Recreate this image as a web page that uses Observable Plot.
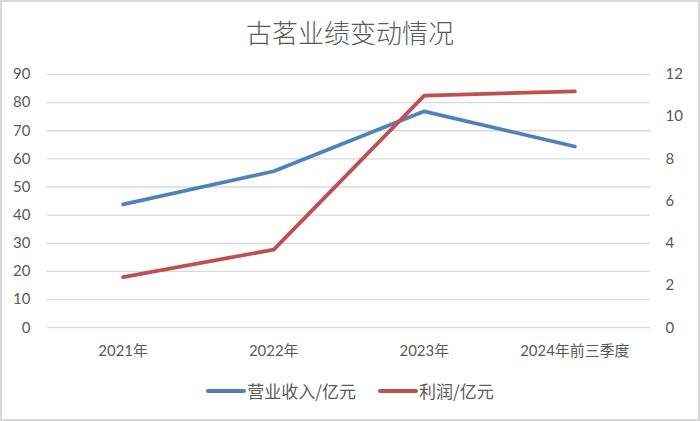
<!DOCTYPE html>
<html>
<head>
<meta charset="utf-8">
<script src="https://cdn.jsdelivr.net/npm/d3@7"></script>
<script src="https://cdn.jsdelivr.net/npm/@observablehq/plot@0.6"></script>
<style>
  html, body { margin: 0; padding: 0; background: #fff; }
  #wrap { position: relative; width: 700px; height: 421px; box-sizing: border-box; border: 2px solid #d9d9d9; background: #fff; overflow: hidden; }
  #title { position: absolute; left: 0; top: 13px; width: 696px; text-align: center; font-family: "Noto Sans CJK SC", sans-serif; font-weight: 300; font-size: 26px; color: #595959; line-height: 34px; }
  #chart { position: absolute; left: -2px; top: 58px; }
  #legend { position: absolute; left: -2px; top: 376px; width: 700px; display: flex; justify-content: center; align-items: center; font-family: "Noto Sans CJK SC", sans-serif; font-size: 17px; color: #595959; }
  .item { display: flex; align-items: center; }
  .swatch { width: 40px; height: 4px; border-radius: 2px; margin-right: 1px; }
</style>
</head>
<body>
<div id="wrap">
  <div id="title">古茗业绩变动情况</div>
  <div id="chart"></div>
  <div id="legend"></div>
</div>
<script>
const categories = ["2021年", "2022年", "2023年", "2024年前三季度"];
const revenue = [43.8, 55.6, 76.9, 64.4];   // 营业收入/亿元 (left axis)
const profit = [2.4, 3.7, 11.0, 11.2];      // 利润/亿元 (right axis)
const leftTicks = [0, 10, 20, 30, 40, 50, 60, 70, 80, 90];
const rightTicks = [0, 2, 4, 6, 8, 10, 12];
const seriesNames = ["营业收入/亿元", "利润/亿元"];
const colors = ["#4f81bd", "#c0504d"];

const ratio = 90 / 12; // maps right-axis values onto left scale
const revData = categories.map((c, i) => ({cat: c, v: revenue[i]}));
const proData = categories.map((c, i) => ({cat: c, v: profit[i] * ratio}));

const font = "Lato, 'Noto Sans CJK SC', sans-serif";

const chart = Plot.plot({
  width: 700,
  height: 312,
  marginTop: 14,
  marginBottom: 44,
  marginLeft: 47,
  marginRight: 48,
  style: {fontFamily: font, fontSize: "15px", color: "#595959", background: "transparent"},
  x: {type: "point", domain: categories, padding: 0.5},
  y: {domain: [0, 90]},
  marks: [
    Plot.gridY(leftTicks, {stroke: "#d9d9d9", strokeOpacity: 1, strokeWidth: 1.3}),
    Plot.axisY(leftTicks, {anchor: "left", tickSize: 0, tickPadding: 17, label: null, fill: "#595959", fontSize: 15}),
    Plot.axisY(rightTicks.map(v => v * ratio), {anchor: "right", tickSize: 0, tickPadding: 15, label: null, fill: "#595959", fontSize: 15, tickFormat: d => d3.format("d")(Math.round(d / ratio))}),
    Plot.axisX({tickSize: 0, tickPadding: 18, label: null, fill: "#595959", fontSize: 15, fontFamily: font}),
    Plot.line(revData, {x: "cat", y: "v", stroke: colors[0], strokeWidth: 3.8, strokeLinecap: "round", strokeLinejoin: "round"}),
    Plot.line(proData, {x: "cat", y: "v", stroke: colors[1], strokeWidth: 3.8, strokeLinecap: "round", strokeLinejoin: "round"})
  ]
});
document.getElementById("chart").appendChild(chart);

const legend = document.getElementById("legend");
seriesNames.forEach((name, i) => {
  const item = document.createElement("div");
  item.className = "item";
  if (i > 0) item.style.marginLeft = "22px";
  const sw = document.createElement("div");
  sw.className = "swatch";
  sw.style.background = colors[i];
  const t = document.createElement("span");
  t.textContent = name;
  item.appendChild(sw);
  item.appendChild(t);
  legend.appendChild(item);
});
</script>
</body>
</html>
